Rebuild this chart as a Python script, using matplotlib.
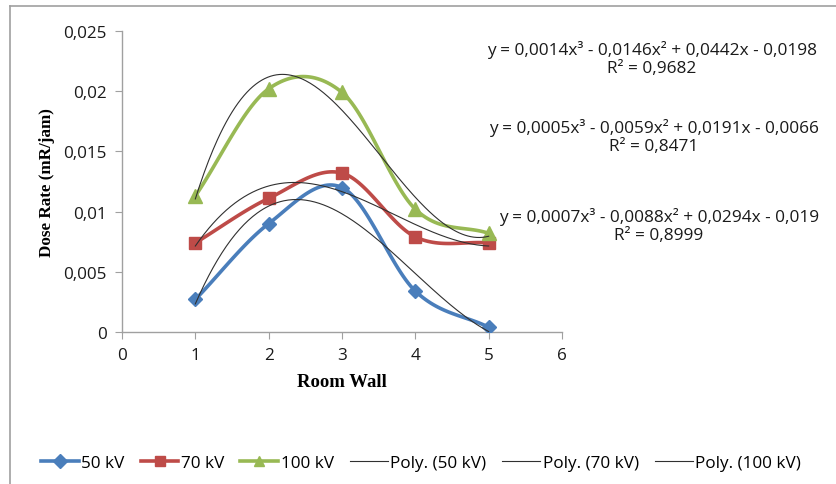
import numpy as np
import matplotlib
matplotlib.use("Agg")
import matplotlib.pyplot as plt
from matplotlib.lines import Line2D

# ---- data ----
walls = [1, 2, 3, 4, 5]
dose_50kv = [0.0027, 0.0090, 0.0120, 0.0034, 0.0004]
dose_70kv = [0.0074, 0.0111, 0.0132, 0.0079, 0.0074]
dose_100kv = [0.0113, 0.0202, 0.0199, 0.0102, 0.0082]
series_names = ["50 kV", "70 kV", "100 kV"]
eq_texts = [
    "y = 0,0014x³ - 0,0146x² + 0,0442x - 0,0198\nR² = 0,9682",
    "y = 0,0005x³ - 0,0059x² + 0,0191x - 0,0066\nR² = 0,8471",
    "y = 0,0007x³ - 0,0088x² + 0,0294x - 0,019\nR² = 0,8999",
]
y_ticks = [0, 0.005, 0.01, 0.015, 0.02, 0.025]
y_ticklabels = ["0", "0,005", "0,01", "0,015", "0,02", "0,025"]
x_ticks = [0, 1, 2, 3, 4, 5, 6]

colors = ["#4A7EBB", "#BE4B48", "#98B954"]
markers = ["D", "s", "^"]
msizes = [7, 9, 10]

plt.rcParams['font.family'] = ['Open Sans', 'DejaVu Sans']


def catmull_rom(x, y, n=30):
    x = np.asarray(x, float)
    y = np.asarray(y, float)
    px = np.concatenate([[2 * x[0] - x[1]], x, [2 * x[-1] - x[-2]]])
    py = np.concatenate([[2 * y[0] - y[1]], y, [2 * y[-1] - y[-2]]])
    xs, ys = [], []
    for i in range(1, len(px) - 2):
        t = np.linspace(0, 1, n, endpoint=(i == len(px) - 3))
        p0, p1, p2, p3 = [np.array([px[j], py[j]]) for j in (i - 1, i, i + 1, i + 2)]
        t2 = t * t
        t3 = t2 * t
        pts = 0.5 * ((2 * p1)[:, None] + (-p0 + p2)[:, None] * t
                     + (2 * p0 - 5 * p1 + 4 * p2 - p3)[:, None] * t2
                     + (-p0 + 3 * p1 - 3 * p2 + p3)[:, None] * t3)
        xs.append(pts[0])
        ys.append(pts[1])
    return np.concatenate(xs), np.concatenate(ys)


fig = plt.figure(figsize=(8.37, 4.85), dpi=100)
ax = fig.add_axes([122 / 837, 1 - 333 / 485, 440 / 837, 301 / 485])

all_series = [dose_50kv, dose_70kv, dose_100kv]
for vals, c, m, ms in zip(all_series, colors, markers, msizes):
    sx, sy = catmull_rom(walls, vals)
    ax.plot(sx, sy, color=c, lw=2.6, zorder=3, solid_capstyle='round')
    ax.plot(walls, vals, linestyle='none', marker=m, color=c, ms=ms,
            markeredgecolor=c, zorder=4)

xf = np.linspace(walls[0], walls[-1], 200)
for vals in all_series:
    coef = np.polyfit(walls, vals, 3)
    ax.plot(xf, np.polyval(coef, xf), color='#303030', lw=0.8, zorder=5)

ax.set_xlim(0, 6)
ax.set_ylim(0, 0.025)
ax.set_xticks(x_ticks)
ax.set_yticks(y_ticks)
ax.set_yticklabels(y_ticklabels)
for s in ['top', 'right']:
    ax.spines[s].set_visible(False)
for s in ['left', 'bottom']:
    ax.spines[s].set_color('#A0A0A0')
    ax.spines[s].set_linewidth(1.0)
ax.tick_params(direction='out', length=5, color='#A0A0A0', labelsize=12.3,
               labelcolor='#1a1a1a', pad=6)
ax.set_xlabel("Room Wall", family='Liberation Serif', fontweight='bold',
              fontsize=13.5, labelpad=7)
ax.set_ylabel("Dose Rate (mR/jam)", family='Liberation Serif', fontweight='bold',
              fontsize=12.3, labelpad=6)

# equations
eq_pos = [(652, 59), (654, 137), (659, 226)]
for (px, py), t in zip(eq_pos, eq_texts):
    fig.text(px / 837, 1 - py / 485, t, ha='center', va='center', fontsize=12.4,
             color='#1a1a1a', linespacing=1.15)

# frame lines
fig.add_artist(Line2D([10 / 837, 1.0], [1 - 7 / 485, 1 - 7 / 485],
                      transform=fig.transFigure, color='#A0A0A0', lw=1.2))
fig.add_artist(Line2D([10 / 837, 10 / 837], [0.0, 1 - 7 / 485],
                      transform=fig.transFigure, color='#A0A0A0', lw=1.2))

handles = []
for name, c, m in zip(series_names, colors, markers):
    handles.append(Line2D([], [], color=c, lw=2.6, marker=m, ms=7, markeredgecolor=c,
                          label=name))
for name in series_names:
    handles.append(Line2D([], [], color='#303030', lw=0.8, label=f"Poly. ({name})"))
fig.legend(handles=handles, loc='center', bbox_to_anchor=(421 / 837, 1 - 464 / 485),
           ncol=6, frameon=False, fontsize=12.3, handlelength=2.2, handletextpad=0.15,
           columnspacing=0.95)

fig.savefig("out.png", dpi=100)
